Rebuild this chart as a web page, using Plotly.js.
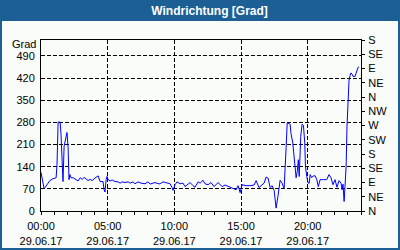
<!DOCTYPE html>
<html>
<head>
<meta charset="utf-8">
<script src="https://cdn.plot.ly/plotly-3.0.1.min.js"></script>
<style>
html,body{margin:0;padding:0;background:#fafcfa;}
#chart{width:400px;height:250px;}
</style>
</head>
<body>
<div id="chart"></div>
<script>
// Time of day (29.06.17) and wind direction in degrees
const times = ["00:00","00:14","00:40","00:54","01:08","01:12","01:17","01:26","01:30","01:35","01:39","01:44","01:53","01:57","02:02","02:06","02:10","02:15","02:24","02:38","02:47","02:56","03:05","03:14","03:23","03:32","03:41","03:50","04:03","04:17","04:26","04:39","04:44","04:48","04:53","04:57","05:02","05:11","05:20","05:33","05:47","05:56","06:05","06:18","06:32","06:41","06:54","07:03","07:17","07:30","07:48","08:02","08:11","08:24","08:33","08:47","08:56","09:09","09:18","09:32","09:41","09:50","09:54","10:03","10:12","10:26","10:39","10:48","11:02","11:11","11:24","11:33","11:47","11:56","12:09","12:18","12:32","12:45","12:59","13:17","13:35","13:48","14:02","14:20","14:38","14:47","14:56","15:05","15:23","15:41","15:59","16:08","16:21","16:30","16:44","16:53","17:02","17:11","17:20","17:29","17:38","17:47","17:56","18:05","18:14","18:23","18:28","18:41","18:45","18:53","18:59","19:04","19:08","19:13","19:18","19:22","19:29","19:35","19:41","19:47","19:50","19:56","20:02","20:07","20:11","20:18","20:25","20:34","20:41","20:48","20:56","21:11","21:26","21:36","21:45","21:54","22:03","22:12","22:21","22:30","22:35","22:39","22:44","22:48","22:53","22:57","23:02","23:06","23:11","23:15","23:20","23:24","23:33","23:38","23:42","23:47","23:51"];
const degrees = [122,70,96,102,105,146,281,281,242,162,93,205,240,248,200,99,115,105,105,100,95,105,100,106,102,96,100,96,104,111,93,93,67,60,99,109,99,95,98,93,92,88,92,90,92,88,92,86,92,88,86,92,85,88,90,86,86,92,90,86,86,74,65,83,92,86,88,77,86,90,80,75,92,88,97,86,83,90,77,90,77,82,78,72,67,80,58,83,80,80,82,96,74,80,88,107,104,74,80,65,9,50,97,88,70,200,279,274,245,215,173,130,105,124,162,109,236,274,270,215,141,109,88,88,115,105,111,111,99,77,99,99,99,115,105,83,99,75,96,88,67,85,30,77,141,268,358,411,429,436,432,425,425,436,443,454,454];

const day = "2017-06-29";
const xTickVals = ["00:00","05:00","10:00","15:00","20:00"];
const xTickDate = "29.06.17";
const leftTicks = [0,70,140,210,280,350,420,490];
const compassVals = [0,45,90,135,180,225,270,315,360,405,450,495,540];
const compassText = ["N","NE","E","SE","S","SW","W","NW","N","NE","E","SE","S"];

const xs = times.map(t => day + " " + t);
const font = {family: "Liberation Sans, Arial, sans-serif", size: 11, color: "#000"};
const blue = "#1b5f94";

// plot area: x 41..361, y 40..211
const L = 41, R = 361, T = 40, B = 211;
const px = x => (x - L) / (R - L);
const py = y => (B - y) / (B - T);

const trace = {
  x: xs, y: degrees, type: "scatter", mode: "lines",
  line: {color: "#0000ff", width: 1}, hoverinfo: "skip"
};
const trace2 = {x: [xs[0]], y: [0], yaxis: "y2", mode: "none", type: "scatter", showlegend: false, hoverinfo: "skip"};

const layout = {
  width: 400, height: 250,
  margin: {l: L, r: 400 - R, t: T, b: 250 - B, pad: 0},
  paper_bgcolor: "#fafcfa", plot_bgcolor: "#fafcfa",
  showlegend: false,
  font: font,
  title: {
    text: "Windrichtung [Grad]",
    xref: "container", x: 0.524, xanchor: "center",
    yref: "container", y: 1 - 10.5 / 250, yanchor: "middle",
    font: {family: "Liberation Sans, Arial, sans-serif", size: 12, color: "#ffffff", weight: "bold"}
  },
  xaxis: {
    type: "date",
    range: [day + " 00:00", "2017-06-30 00:00"],
    tickvals: xTickVals.map(t => day + " " + t),
    ticktext: xTickVals.map(t => t + "<br>" + xTickDate),
    ticks: "outside", ticklen: 3, tickcolor: "#000", tickwidth: 1,
    minor: {dtick: 3600000, ticks: "outside", ticklen: 3, tickcolor: "#000", showgrid: false},
    showline: true, linecolor: "#000", linewidth: 1, mirror: true,
    showgrid: true, gridcolor: "#000", gridwidth: 1, griddash: "4px,2px",
    zeroline: false, tickfont: font, fixedrange: true, ticklabelstandoff: 2
  },
  yaxis: {
    range: [0, 540],
    tickvals: leftTicks,
    ticktext: leftTicks.map(String),
    ticks: "", showline: true, linecolor: "#000", linewidth: 1, mirror: true,
    showgrid: true, gridcolor: "#000", gridwidth: 1, griddash: "4px,2px",
    zeroline: false, tickfont: font, fixedrange: true, ticklabelstandoff: 3
  },
  yaxis2: {
    overlaying: "y", side: "right",
    range: [0, 540],
    tickvals: compassVals, ticktext: compassText,
    ticks: "outside", ticklen: 3, tickcolor: "#000",
    showline: false, showgrid: false, zeroline: false,
    tickfont: font, fixedrange: true, ticklabelstandoff: 1
  },
  annotations: [{
    text: "Grad", xref: "paper", yref: "paper",
    x: px(37), y: py(44.5), xanchor: "right", yanchor: "middle",
    showarrow: false, font: font, borderpad: 0
  }],
  shapes: [
    {type: "rect", xref: "paper", yref: "paper", layer: "below",
     x0: px(-5), x1: px(405), y0: py(21), y1: py(-5),
     fillcolor: blue, line: {width: 0}},
    {type: "rect", xref: "paper", yref: "paper", layer: "above",
     x0: px(1), x1: px(399), y0: py(249), y1: py(1),
     fillcolor: "rgba(0,0,0,0)", line: {color: blue, width: 2}}
  ]
};

Plotly.newPlot("chart", [trace, trace2], layout, {displayModeBar: false, staticPlot: true});
</script>
</body>
</html>
